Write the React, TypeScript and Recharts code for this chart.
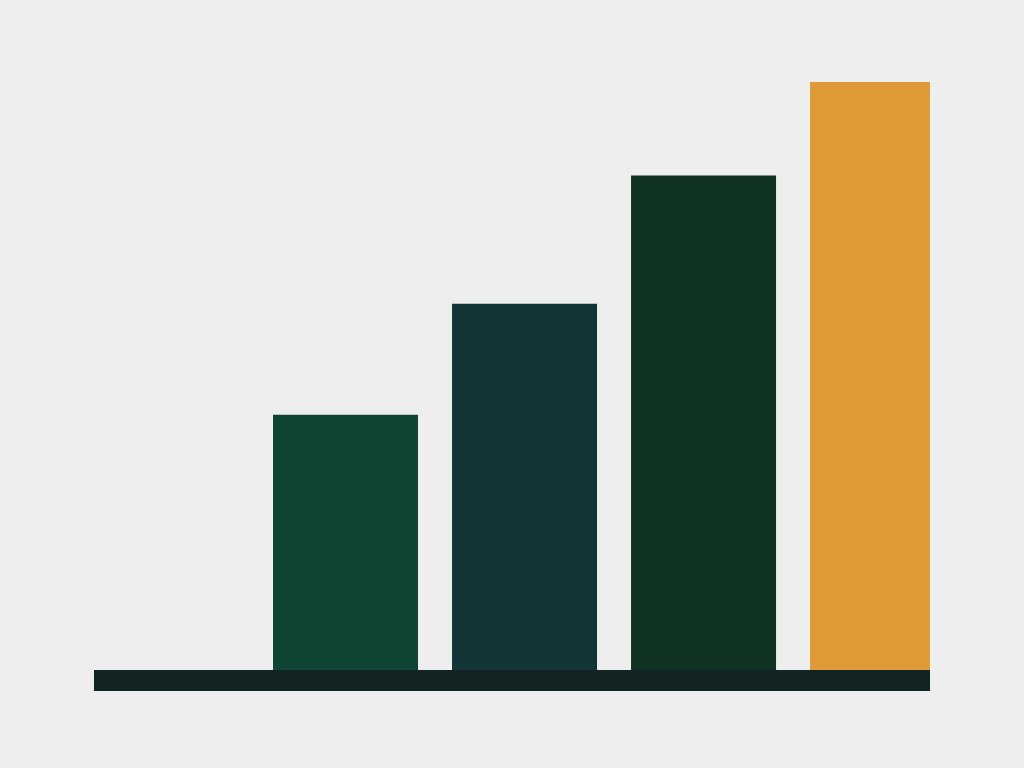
import { BarChart, Bar, XAxis, YAxis, Cell, ReferenceArea } from 'recharts'

// category slots; slot 0 is left empty in the picture
const positions = [1, 2, 3, 4]
const values = [43.4, 62.3, 84.1, 100]
const COLORS = [
  '#104433', // green
  '#123436', // teal
  '#113324', // forest
  '#DE9A36', // amber
]

const data = positions.map((pos, i) => ({ pos, value: values[i] }))

export default function App() {
  return (
    <div
      style={{
        position: 'absolute',
        left: 0,
        top: 0,
        width: 1024,
        height: 768,
        background: '#EEEEEE',
      }}
    >
      <BarChart
        width={1024}
        height={768}
        data={data}
        margin={{ top: 82, right: 94, bottom: 77, left: 94 }}
      >
        <XAxis
          type="number"
          dataKey="pos"
          domain={[-0.405, 4.265]}
          allowDataOverflow
          hide
        />
        <YAxis type="number" domain={[-3.57, 100]} allowDataOverflow hide />
        <Bar dataKey="value" barSize={145} isAnimationActive={false}>
          {data.map((d, i) => (
            <Cell key={d.pos} fill={COLORS[i % COLORS.length]} />
          ))}
        </Bar>
        <ReferenceArea
          y1={-3.57}
          y2={0}
          fill="#112323"
          fillOpacity={1}
          stroke="none"
        />
      </BarChart>
    </div>
  )
}
